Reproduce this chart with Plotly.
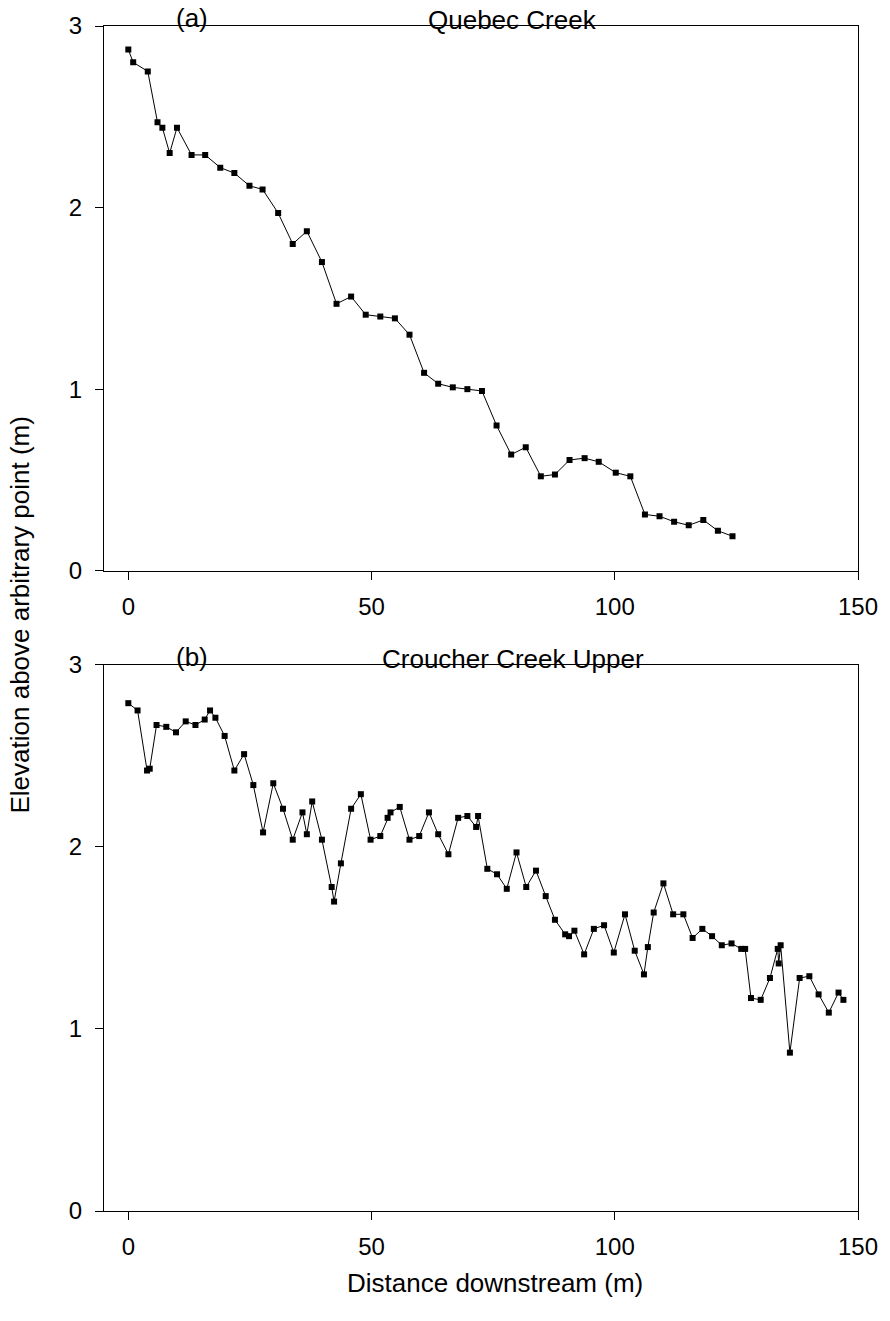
import plotly.graph_objects as go

# Panel (a) Quebec Creek
qx = [0, 1, 4, 6, 7, 8.5, 10, 13, 15.8, 18.9, 21.8, 24.9, 27.6, 30.8, 33.8, 36.7, 39.8,
      42.8, 45.8, 48.8, 51.8, 54.8, 57.8, 60.8, 63.7, 66.7, 69.7, 72.7, 75.7, 78.7, 81.7,
      84.8, 87.7, 90.7, 93.8, 96.7, 100.2, 103.2, 106.2, 109.2, 112.2, 115.2, 118.2, 121.2, 124.2]
qy = [2.87, 2.80, 2.75, 2.47, 2.44, 2.30, 2.44, 2.29, 2.29, 2.22, 2.19, 2.12, 2.10, 1.97,
      1.80, 1.87, 1.70, 1.47, 1.51, 1.41, 1.40, 1.39, 1.30, 1.09, 1.03, 1.01, 1.00, 0.99,
      0.80, 0.64, 0.68, 0.52, 0.53, 0.61, 0.62, 0.60, 0.54, 0.52, 0.31, 0.30, 0.27, 0.25,
      0.28, 0.22, 0.19]

# Panel (b) Croucher Creek Upper
cx = [0, 1.9, 3.85, 4.4, 5.8, 7.8, 9.8, 11.8, 13.8, 15.7, 16.8, 17.9, 19.8, 21.8, 23.8,
      25.7, 27.7, 29.8, 31.8, 33.8, 35.8, 36.7, 37.8, 39.8, 41.8, 42.3, 43.7, 45.8, 47.8,
      49.8, 51.8, 53.3, 53.9, 55.8, 57.8, 59.8, 61.8, 63.7, 65.8, 67.8, 69.7, 71.5, 71.9,
      73.8, 75.8, 77.8, 79.8, 81.8, 83.8, 85.8, 87.7, 89.8, 90.6, 91.7, 93.7, 95.7, 97.8,
      99.8, 102.1, 104.1, 106.0, 106.8, 108.0, 110.0, 112.0, 114.1, 116.0, 118.0, 120.0,
      122.0, 124.0, 126.0, 126.8, 128.0, 130.0, 131.9, 133.5, 133.7, 134.1, 136.0, 138.0,
      140.0, 141.9, 144.0, 146.0, 147.0]
cy = [2.79, 2.75, 2.42, 2.43, 2.67, 2.66, 2.63, 2.69, 2.67, 2.70, 2.75, 2.71, 2.61, 2.42,
      2.51, 2.34, 2.08, 2.35, 2.21, 2.04, 2.19, 2.07, 2.25, 2.04, 1.78, 1.70, 1.91, 2.21,
      2.29, 2.04, 2.06, 2.16, 2.19, 2.22, 2.04, 2.06, 2.19, 2.07, 1.96, 2.16, 2.17, 2.11,
      2.17, 1.88, 1.85, 1.77, 1.97, 1.78, 1.87, 1.73, 1.60, 1.52, 1.51, 1.54, 1.41, 1.55,
      1.57, 1.42, 1.63, 1.43, 1.30, 1.45, 1.64, 1.80, 1.63, 1.63, 1.50, 1.55, 1.51, 1.46,
      1.47, 1.44, 1.44, 1.17, 1.16, 1.28, 1.44, 1.36, 1.46, 0.87, 1.28, 1.29, 1.19, 1.09,
      1.20, 1.16]

x_ticks = [0, 50, 100, 150]
y_ticks = [0, 1, 2, 3]

FONT = "Liberation Sans, Arial, sans-serif"

fig = go.Figure()
line_style = dict(color="black", width=1)
marker_style = dict(symbol="square", size=6, color="black")

fig.add_trace(go.Scatter(x=qx, y=qy, mode="lines+markers", line=line_style,
                         marker=marker_style, xaxis="x", yaxis="y", showlegend=False))
fig.add_trace(go.Scatter(x=cx, y=cy, mode="lines+markers", line=line_style,
                         marker=marker_style, xaxis="x2", yaxis="y2", showlegend=False))

axis_common = dict(showline=True, mirror=True, linecolor="black", linewidth=1,
                   ticks="outside", ticklen=8, tickcolor="black", tickwidth=1,
                   showgrid=False, zeroline=False,
                   tickfont=dict(family=FONT, size=24, color="black"))

fig.update_layout(
    width=890, height=1321,
    margin=dict(l=104, r=28, t=26, b=110),
    plot_bgcolor="white", paper_bgcolor="white",
    xaxis=dict(domain=[0, 1], anchor="y", range=[-5, 150], tickvals=x_ticks,
               ticklabelstandoff=6, **axis_common),
    yaxis=dict(domain=[0.5403, 1], anchor="x", range=[0, 3], tickvals=y_ticks,
               ticklabelstandoff=8, **axis_common),
    xaxis2=dict(domain=[0, 1], anchor="y2", range=[-5, 150], tickvals=x_ticks,
                ticklabelstandoff=6, **axis_common),
    yaxis2=dict(domain=[0, 0.4608], anchor="x2", range=[0, 3], tickvals=y_ticks,
                ticklabelstandoff=8, **axis_common),
)

ann_font = dict(family=FONT, size=26, color="black")
fig.add_annotation(text="(a)", x=13, y=1, xref="x", yref="y domain", yanchor="middle",
                   yshift=8, showarrow=False, font=ann_font)
fig.add_annotation(text="Quebec Creek", x=79, y=1, xref="x", yref="y domain", yanchor="middle",
                   yshift=6, showarrow=False, font=ann_font)
fig.add_annotation(text="(b)", x=13, y=1, xref="x2", yref="y2 domain", yanchor="middle",
                   yshift=8, showarrow=False, font=ann_font)
fig.add_annotation(text="Croucher Creek Upper", x=79, y=1, xref="x2", yref="y2 domain",
                   yanchor="middle", yshift=6, showarrow=False, font=ann_font)
fig.add_annotation(text="Elevation above arbitrary point (m)", x=-0.112, y=0.503,
                   xref="paper", yref="paper", xanchor="center", yanchor="middle",
                   showarrow=False, font=ann_font, textangle=-90)
fig.add_annotation(text="Distance downstream (m)", x=0.518, y=-0.0608,
                   xref="paper", yref="paper", xanchor="center", yanchor="middle",
                   showarrow=False, font=ann_font)

fig.write_html("out.html")
